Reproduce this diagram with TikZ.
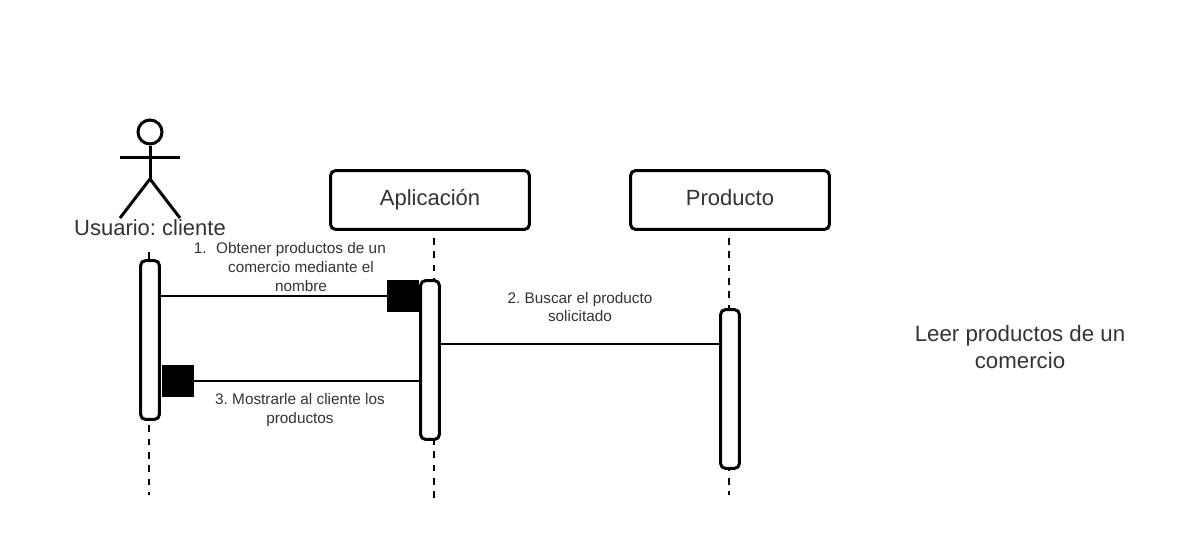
\documentclass[tikz,border=0pt]{standalone}
\usepackage{xcolor}
\usepackage{fontspec}
\setmainfont{Liberation Sans}
\usetikzlibrary{positioning}
\definecolor{textgray}{HTML}{333333}

\begin{document}
\frenchspacing
\begin{tikzpicture}[
    x=0.75pt,
    y=-0.75pt,
    obj/.style={
        rectangle,
        rounded corners=3.5pt,
        minimum width=149pt,
        minimum height=44pt,
        align=center,
        draw=black,
        fill=white,
        line width=2.25pt,
        text=textgray,
        text height=12.2pt,
        text depth=3.5pt,
        font=\fontsize{16.5pt}{18pt}\selectfont
    },
    activation/.style={
        rectangle,
        rounded corners=3.5pt,
        minimum width=14pt,
        minimum height=119pt,
        draw=black,
        fill=white,
        line width=2.25pt
    },
    marker/.style={
        rectangle,
        fill=black,
        minimum size=24pt,
        inner sep=0pt
    },
    msg/.style={
        align=center,
        text=textgray,
        font=\fontsize{11.5pt}{14.2pt}\selectfont
    },
    lifeline/.style={
        line width=1.5pt,
        dash pattern=on 5pt off 5pt
    },
    arrow/.style={
        line width=1.5pt
    },
    stick/.style={
        line width=2.25pt
    }
]
\useasboundingbox (0,0) rectangle (1180,540);

% Lifelines
\coordinate (clienteTop) at (148.5,252);
\coordinate (clienteEnd) at (148.5,495);
\coordinate (appTop)     at (433.5,238);
\coordinate (appEnd)     at (433.5,500);
\coordinate (prodTop)    at (728.5,238);
\coordinate (prodEnd)    at (728.5,495);
\draw[lifeline] (clienteTop) -- (clienteEnd);
\draw[lifeline] (appTop)     -- (appEnd);
\draw[lifeline] (prodTop)    -- (prodEnd);

% Objects
\node[obj] (app)  at (430,200) {Aplicación};
\node[obj] (prod) at (730,200) {Producto};

% Actor
\node[circle, draw=black, fill=white, line width=2.25pt, minimum size=18pt, inner sep=0pt] (head) at (150,132) {};
\coordinate (hip)   at (150,179);
\coordinate (armL)  at (120,157);
\coordinate (armR)  at (180,157);
\coordinate (footL) at (120,218);
\coordinate (footR) at (180,218);
\draw[stick] (head.south) -- (hip);
\draw[stick] (armL) -- (armR);
\draw[stick] (footL) -- (hip) -- (footR);
\node[text=textgray, font=\fontsize{16.5pt}{20pt}\selectfont] (actor) at (150,228) {Usuario: cliente};

% Activation bars
\node[activation] (barCliente) at (150,340)   {};
\node[activation] (barApp)     at (430,360)   {};
\node[activation] (barProd)    at (730,389)   {};

% Filled markers
\node[marker] (markA) at (403,296) {};
\node[marker] (markB) at (177.7,381) {};

% Messages
\draw[arrow] (barCliente.east |- markA.west) -- (markA.west);
\draw[arrow] (barApp.east |- 0,344) -- (barProd.west |- 0,344);
\draw[arrow] (barApp.west |- markB.east) -- (markB.east);

% Labels
\node[msg] (msgA) at (301,267) {\llap{1.\hspace{0.62em}}Obtener productos de un\\comercio mediante el\\nombre};
\node[msg] (msgB) at (580,307) {2. Buscar el producto\\solicitado};
\node[msg] (msgC) at (300,410) {3. Mostrarle al cliente los\\productos};

% Title
\node[align=center, text=textgray, font=\fontsize{16.7pt}{20pt}\selectfont] (title) at (1020,347) {Leer productos de un\\comercio};

\end{tikzpicture}
\end{document}
